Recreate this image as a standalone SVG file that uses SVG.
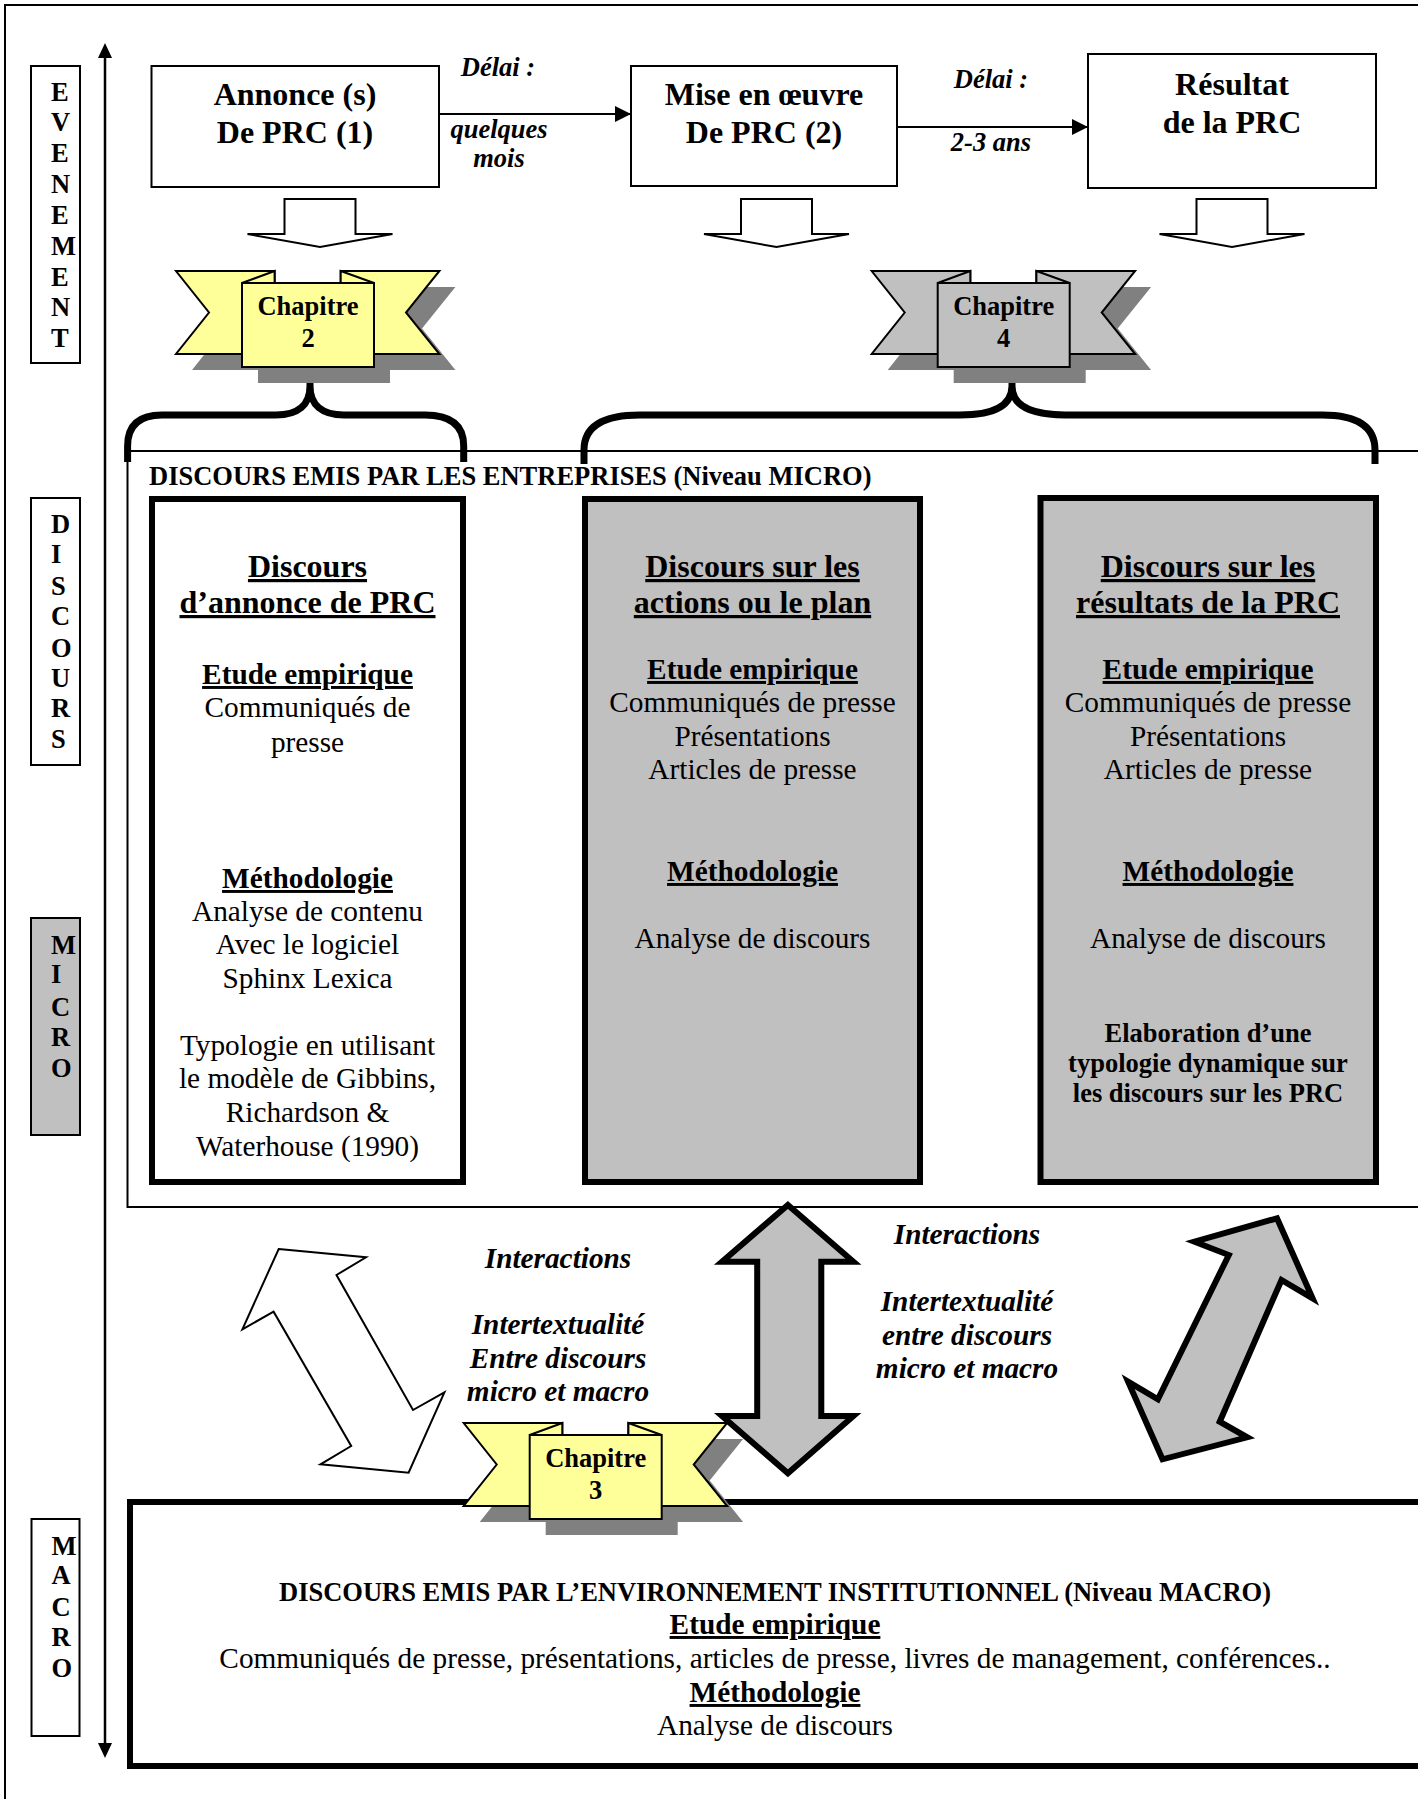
<svg xmlns="http://www.w3.org/2000/svg" xmlns:xlink="http://www.w3.org/1999/xlink" width="1418" height="1799" viewBox="0 0 1418 1799">
  <style>
    text { font-family: "Liberation Serif", "Times New Roman", serif; fill: #000; }
    .b { font-weight: bold; }
    .i { font-style: italic; }
    .u { text-decoration: underline; }
    .s32 { font-size: 32px; }
    .s29 { font-size: 29.3px; }
    .s26 { font-size: 26.5px; }
    .mid { text-anchor: middle; }
    .thin { fill: none; stroke: #000; stroke-width: 2; }
    .box { fill: #fff; stroke: #000; stroke-width: 2; }
    .bigwhite { fill: #fff; stroke: #000; stroke-width: 6; }
    .biggray { fill: #c0c0c0; stroke: #000; stroke-width: 6; }
    .brace { fill: none; stroke: #000; stroke-width: 7; }
    .fat { fill: #c0c0c0; stroke: #000; stroke-width: 6; stroke-linejoin: miter; }
    .hollow { fill: #fff; stroke: #000; stroke-width: 2; }
  </style>
  <defs>
    <!-- ribbon banner, origin at top-left of the left wing -->
    <g id="ribbon">
      <g fill="#808080" stroke="none" transform="translate(16,16)">
        <polygon points="0,0 98.6,0 98.6,83 0,83 33,41.5"/>
        <polygon points="263.4,0 164.7,0 164.7,83 263.4,83 230,41.5"/>
        <rect x="66" y="12" width="132" height="84"/>
      </g>
      <g stroke="#000" stroke-width="2" stroke-linejoin="miter">
        <polygon points="0,0 98.6,0 98.6,83 0,83 33,41.5"/>
        <polygon points="263.4,0 164.7,0 164.7,83 263.4,83 230,41.5"/>
        <polygon points="66,12 98.6,0 98.6,12"/>
        <polygon points="198,12 164.7,0 164.7,12"/>
        <rect x="66" y="12" width="132" height="84"/>
      </g>
    </g>
    <!-- hollow downward block arrow, origin at top centre -->
    <polygon id="downArrow" class="hollow" points="-35.5,0 35.5,0 35.5,35 72.5,35 0,48 -72.5,35 -35.5,35"/>
    <marker id="tip" viewBox="0 0 16 16" refX="16" refY="8" markerWidth="16" markerHeight="16" markerUnits="userSpaceOnUse" orient="auto">
      <path d="M0,0 L16,8 L0,16 Z" fill="#000"/>
    </marker>
  </defs>

  <rect width="1418" height="1799" fill="#fff"/>

  <!-- page frame -->
  <path d="M5,1799 V5 H1418" class="thin"/>

  <!-- side labels -->
  <g id="label-evenement">
    <rect x="31" y="66" width="49" height="297" class="box"/>
    <text class="b s26" x="51">
      <tspan x="51" y="101">E</tspan><tspan x="51" y="131">V</tspan><tspan x="51" y="162">E</tspan>
      <tspan x="51" y="193">N</tspan><tspan x="51" y="224">E</tspan><tspan x="51" y="255">M</tspan>
      <tspan x="51" y="286">E</tspan><tspan x="51" y="316">N</tspan><tspan x="51" y="347">T</tspan>
    </text>
  </g>
  <g id="label-discours">
    <rect x="31" y="498" width="49" height="267" class="box"/>
    <text class="b s26">
      <tspan x="51" y="533">D</tspan><tspan x="51" y="563">I</tspan><tspan x="51" y="595">S</tspan>
      <tspan x="51" y="625">C</tspan><tspan x="51" y="657">O</tspan><tspan x="51" y="687">U</tspan>
      <tspan x="51" y="717">R</tspan><tspan x="51" y="748">S</tspan>
    </text>
  </g>
  <g id="label-micro">
    <rect x="31" y="918" width="49" height="217" fill="#c0c0c0" stroke="#000" stroke-width="2"/>
    <text class="b s26">
      <tspan x="51" y="954">M</tspan><tspan x="51" y="983">I</tspan><tspan x="51" y="1016">C</tspan>
      <tspan x="51" y="1046">R</tspan><tspan x="51" y="1077">O</tspan>
    </text>
  </g>
  <g id="label-macro">
    <rect x="31.5" y="1519" width="48" height="217" class="box"/>
    <text class="b s26">
      <tspan x="51.5" y="1555">M</tspan><tspan x="51.5" y="1584">A</tspan><tspan x="51.5" y="1616">C</tspan>
      <tspan x="51.5" y="1646">R</tspan><tspan x="51.5" y="1677">O</tspan>
    </text>
  </g>

  <!-- event boxes -->
  <g id="annonce">
    <rect x="151.5" y="66" width="287.5" height="121" class="box"/>
    <text class="b s32 mid" x="295" y="105">Annonce (s)</text>
    <text class="b s32 mid" x="295" y="143">De PRC (1)</text>
  </g>
  <g id="mise-en-oeuvre">
    <rect x="631" y="66" width="266" height="120" class="box"/>
    <text class="b s32 mid" x="764" y="105">Mise en œuvre</text>
    <text class="b s32 mid" x="764" y="143">De PRC (2)</text>
  </g>
  <g id="resultat">
    <rect x="1088" y="54" width="288" height="134" class="box"/>
    <text class="b s32 mid" x="1232" y="95">Résultat</text>
    <text class="b s32 mid" x="1232" y="133">de la PRC</text>
  </g>

  <!-- micro level frame -->
  <g id="micro-frame">
    <rect x="127.5" y="451" width="1400" height="756" class="thin"/>
    <text class="b s26" x="149" y="485">DISCOURS EMIS PAR LES ENTREPRISES (Niveau MICRO)</text>
  </g>

  <g id="discours-annonce">
    <rect x="152" y="499" width="311" height="683" class="bigwhite"/>
    <text class="b u s32 mid" x="307.5" y="577">Discours</text>
    <text class="b u s32 mid" x="307.5" y="613">d’annonce de PRC</text>
    <text class="b u s29 mid" x="307.5" y="684">Etude empirique</text>
    <text class="s29 mid" x="307.5" y="717">Communiqués de</text>
    <text class="s29 mid" x="307.5" y="752">presse</text>
    <text class="b u s29 mid" x="307.5" y="888">Méthodologie</text>
    <text class="s29 mid" x="307.5" y="921">Analyse de contenu</text>
    <text class="s29 mid" x="307.5" y="954">Avec le logiciel</text>
    <text class="s29 mid" x="307.5" y="988">Sphinx Lexica</text>
    <text class="s29 mid" x="307.5" y="1055">Typologie en utilisant</text>
    <text class="s29 mid" x="307.5" y="1088">le modèle de Gibbins,</text>
    <text class="s29 mid" x="307.5" y="1122">Richardson &amp;</text>
    <text class="s29 mid" x="307.5" y="1156">Waterhouse (1990)</text>
  </g>

  <g id="discours-actions">
    <rect x="585" y="499" width="335" height="683" class="biggray"/>
    <text class="b u s32 mid" x="752.5" y="577">Discours sur les</text>
    <text class="b u s32 mid" x="752.5" y="613">actions ou le plan</text>
    <text class="b u s29 mid" x="752.5" y="679">Etude empirique</text>
    <text class="s29 mid" x="752.5" y="712">Communiqués de presse</text>
    <text class="s29 mid" x="752.5" y="746">Présentations</text>
    <text class="s29 mid" x="752.5" y="779">Articles de presse</text>
    <text class="b u s29 mid" x="752.5" y="881">Méthodologie</text>
    <text class="s29 mid" x="752.5" y="948">Analyse de discours</text>
  </g>

  <g id="discours-resultats">
    <rect x="1040.5" y="498" width="335.5" height="684" class="biggray"/>
    <text class="b u s32 mid" x="1208" y="577">Discours sur les</text>
    <text class="b u s32 mid" x="1208" y="613">résultats de la PRC</text>
    <text class="b u s29 mid" x="1208" y="679">Etude empirique</text>
    <text class="s29 mid" x="1208" y="712">Communiqués de presse</text>
    <text class="s29 mid" x="1208" y="746">Présentations</text>
    <text class="s29 mid" x="1208" y="779">Articles de presse</text>
    <text class="b u s29 mid" x="1208" y="881">Méthodologie</text>
    <text class="s29 mid" x="1208" y="948">Analyse de discours</text>
    <text class="b s26 mid" x="1208" y="1042">Elaboration d’une</text>
    <text class="b s26 mid" x="1208" y="1072">typologie dynamique sur</text>
    <text class="b s26 mid" x="1208" y="1102">les discours sur les PRC</text>
  </g>

  <!-- macro level box -->
  <g id="macro">
    <rect x="130" y="1502" width="1400" height="264" class="bigwhite"/>
    <text class="b s26 mid" x="775" y="1601">DISCOURS EMIS PAR L’ENVIRONNEMENT INSTITUTIONNEL (Niveau MACRO)</text>
    <text class="b u s29 mid" x="775" y="1634">Etude empirique</text>
    <text class="s29 mid" x="775" y="1668">Communiqués de presse, présentations, articles de presse, livres de management, conférences..</text>
    <text class="b u s29 mid" x="775" y="1702">Méthodologie</text>
    <text class="s29 mid" x="775" y="1735">Analyse de discours</text>
  </g>

  <!-- connectors -->
  <g id="connectors">
    <!-- time axis -->
    <line x1="105" y1="56" x2="105" y2="1745" stroke="#000" stroke-width="2.5"/>
    <polygon points="105,43 98,58 112,58"/>
    <polygon points="105,1758 98,1743 112,1743"/>

    <!-- delays between events -->
    <line x1="439" y1="114" x2="631" y2="114" stroke="#000" stroke-width="2" marker-end="url(#tip)"/>
    <line x1="897" y1="127" x2="1088" y2="127" stroke="#000" stroke-width="2" marker-end="url(#tip)"/>
    <text class="b i s26 mid" x="498" y="76">Délai :</text>
    <text class="b i s26 mid" x="499" y="138">quelques</text>
    <text class="b i s26 mid" x="499" y="167">mois</text>
    <text class="b i s26 mid" x="991" y="88">Délai :</text>
    <text class="b i s26 mid" x="991" y="151">2-3 ans</text>

    <!-- event to chapter arrows -->
    <use xlink:href="#downArrow" transform="translate(320,199)"/>
    <use xlink:href="#downArrow" transform="translate(776.5,199)"/>
    <use xlink:href="#downArrow" transform="translate(1232,199)"/>

    <!-- braces from chapters to discourse boxes -->
    <path class="brace" d="M127.6,462 V446 Q127.6,415 162,415 H276 C298,415 310,405 310,386 V366 M310,386 C310,405 322,415 344,415 H425 Q463.7,415 463.7,446 V462"/>
    <path class="brace" d="M584,464 V450 Q584,415 640,415 H960 C995,415 1012,405 1012,386 V366 M1012,386 C1012,405 1030,415 1065,415 H1322 Q1375,415 1375,450 V464"/>

    <!-- interaction arrows between micro and macro -->
    <polygon class="hollow" points="278.7,1249 366,1257.3 336.5,1275 413,1410 444.4,1392.3 408.6,1472.7 320.5,1464.3 351.2,1446 273.6,1311.7 242.4,1329.3"/>
    <polygon class="fat" points="787.9,1205 853.4,1261.7 821.3,1261.7 821.3,1416 853.4,1416 787.9,1473.3 722,1416 757.2,1416 757.2,1261.7 722,1261.7"/>
    <polygon class="fat" points="1277,1218.3 1312.6,1298.3 1281.5,1280 1219.7,1421.7 1247.2,1437.3 1162.5,1459.3 1128.1,1381.7 1157.9,1399.3 1228.8,1255 1194.5,1241.7"/>

    <text class="b i s29 mid" x="558" y="1268">Interactions</text>
    <text class="b i s29 mid" x="558" y="1334">Intertextualité</text>
    <text class="b i s29 mid" x="558" y="1368">Entre discours</text>
    <text class="b i s29 mid" x="558" y="1401">micro et macro</text>

    <text class="b i s29 mid" x="967" y="1244">Interactions</text>
    <text class="b i s29 mid" x="967" y="1311">Intertextualité</text>
    <text class="b i s29 mid" x="967" y="1345">entre discours</text>
    <text class="b i s29 mid" x="967" y="1378">micro et macro</text>
  </g>

  <!-- chapter banners -->
  <g id="chapitre-2">
    <use xlink:href="#ribbon" transform="translate(176,271)" fill="#ffff99"/>
    <text class="b s26 mid" x="308" y="315">Chapitre</text>
    <text class="b s26 mid" x="308" y="347">2</text>
  </g>
  <g id="chapitre-4">
    <use xlink:href="#ribbon" transform="translate(871.7,271)" fill="#c0c0c0"/>
    <text class="b s26 mid" x="1003.7" y="315">Chapitre</text>
    <text class="b s26 mid" x="1003.7" y="347">4</text>
  </g>
  <g id="chapitre-3">
    <use xlink:href="#ribbon" transform="translate(463.7,1423)" fill="#ffff99"/>
    <text class="b s26 mid" x="595.7" y="1467">Chapitre</text>
    <text class="b s26 mid" x="595.7" y="1499">3</text>
  </g>
</svg>
